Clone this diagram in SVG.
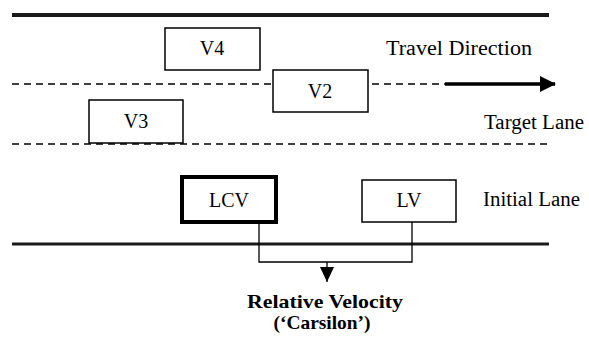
<svg xmlns="http://www.w3.org/2000/svg" width="589" height="342" viewBox="0 0 589 342">
<style>
  .box { fill: #fff; stroke: #000; stroke-width: 1.5; }
  .thick { fill: #fff; stroke: #000; stroke-width: 4; }
  text { fill: #000; font-family: 'Liberation Serif', 'Times New Roman', serif; }
  .lbl { font-size: 20px; text-anchor: middle; }
  .side { font-size: 20px; }
  .bold { font-size: 19px; font-weight: bold; text-anchor: middle; }
  .road { stroke: #1a1a1a; fill: none; }
  .dash { stroke: #000; stroke-width: 1.3; stroke-dasharray: 7 5; fill: none; }
  .conn { stroke: #000; stroke-width: 1.3; fill: none; }
</style>
<defs>
  <marker id="ah" markerWidth="14" markerHeight="16" refX="7" refY="15" orient="0" markerUnits="userSpaceOnUse">
    <path d="M0,0 L14,0 L7,15 Z" fill="#000"/>
  </marker>
  <marker id="bigah" markerWidth="16" markerHeight="16" refX="15" refY="8" orient="auto" markerUnits="userSpaceOnUse">
    <path d="M0,0 L16,8 L0,16 Z" fill="#000"/>
  </marker>
</defs>
<rect width="589" height="342" fill="#fff"/>

<g id="roads">
  <line class="road" x1="12" y1="15" x2="549" y2="15" stroke-width="4"/>
  <line class="road" x1="12" y1="244" x2="549" y2="244" stroke-width="3"/>
  <line class="dash" x1="12" y1="84" x2="445" y2="84"/>
  <line class="dash" x1="12" y1="144" x2="551" y2="144"/>
</g>

<g id="travel-arrow">
  <line x1="445" y1="84" x2="555" y2="84" stroke="#000" stroke-width="3.5" marker-end="url(#bigah)"/>
</g>

<g id="labels">
  <text class="side" x="386" y="55" textLength="146" lengthAdjust="spacingAndGlyphs">Travel Direction</text>
  <text class="side" x="484" y="129" textLength="100" lengthAdjust="spacingAndGlyphs">Target Lane</text>
  <text class="side" x="483" y="206" textLength="97" lengthAdjust="spacingAndGlyphs">Initial Lane</text>
</g>

<g id="V4">
  <rect class="box" x="165" y="28" width="95" height="42"/>
  <text class="lbl" x="212" y="55">V4</text>
</g>
<g id="V2">
  <rect class="box" x="273" y="70" width="95" height="42"/>
  <text class="lbl" x="320" y="98">V2</text>
</g>
<g id="V3">
  <rect class="box" x="89" y="100" width="94" height="43"/>
  <text class="lbl" x="136" y="128">V3</text>
</g>
<g id="LCV">
  <rect class="thick" x="182" y="177" width="94" height="45"/>
  <text class="lbl" x="229" y="207">LCV</text>
</g>
<g id="LV">
  <rect class="box" x="362" y="180" width="94" height="42"/>
  <text class="lbl" x="409" y="207">LV</text>
</g>

<g id="connectors">
  <polyline class="conn" points="259,224 259,262 412,262 412,222"/>
  <line class="conn" x1="327" y1="262" x2="327" y2="282" marker-end="url(#ah)"/>
</g>

<g id="result">
  <text class="bold" x="325" y="308" textLength="156" lengthAdjust="spacingAndGlyphs">Relative Velocity</text>
  <text class="bold" x="322" y="329" textLength="97" lengthAdjust="spacingAndGlyphs">(‘Carsilon’)</text>
</g>
</svg>
